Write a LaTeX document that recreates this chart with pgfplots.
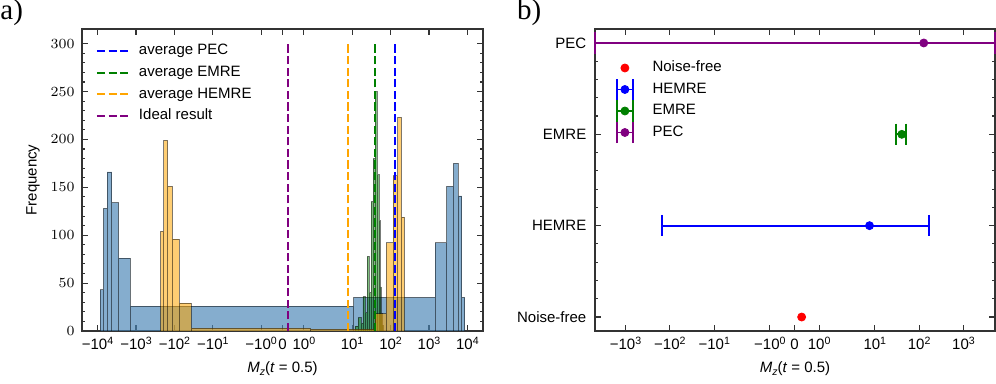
\documentclass[border=0pt]{standalone}
\usepackage{fontspec}
\setmainfont{Liberation Sans}
\newfontfamily\panelfont{Liberation Serif}
\usepackage{pgfplots}
\pgfplotsset{compat=1.18}

\definecolor{mplblue}{RGB}{0,0,255}
\definecolor{mplgreen}{RGB}{0,128,0}
\definecolor{mplorange}{RGB}{255,165,0}
\definecolor{mplpurple}{RGB}{128,0,128}
\definecolor{mplred}{RGB}{255,0,0}
\definecolor{steelblue}{RGB}{70,130,180}

\newcommand\lbl{\fontsize{7.5}{9}\selectfont}
\newcommand\sps[1]{\raisebox{0.75ex}{\fontsize{5.3}{6}\selectfont #1}}

% symlog axis as in matplotlib: linthresh = 2, linscale = 1
\newcommand\symlogfwd[1]{%
  \begingroup
  \pgfkeys{/pgf/fpu=true,/pgf/fpu/output format=fixed}%
  \pgfmathparse{abs(#1)<2 ? 1.1111111*(#1) : ((#1)<0 ? -2 : 2)*(1.1111111+ln(max(abs(#1),2)/2)/ln(10))}%
  \xdef\symlogtmp{\pgfmathresult}%
  \endgroup
  \let\pgfmathresult\symlogtmp}
\newcommand\symloginv[1]{%
  \begingroup
  \pgfkeys{/pgf/fpu=true,/pgf/fpu/output format=fixed}%
  \pgfmathparse{abs(#1)<2.2222222 ? (#1)/1.1111111 : ((#1)<0 ? -2 : 2)*exp(ln(10)*(max(abs(#1),2.2222222)/2-1.1111111))}%
  \xdef\symlogtmp{\pgfmathresult}%
  \endgroup
  \let\pgfmathresult\symlogtmp}

% legend handle for the error bars
\newcommand\ebarimg[1]{%
  \draw[#1, line width=0.9pt, overlay] (0pt,-5.35pt) -- (0pt,5.35pt) (8.3pt,-5.35pt) -- (8.3pt,5.35pt);
  \draw[#1, line width=0.9pt] (0pt,0pt) -- (8.3pt,0pt);
  \fill[#1] (4.15pt,0pt) circle (2pt);}

\pgfplotsset{
  symlog/.style={
    x coord trafo/.code={\symlogfwd{##1}},
    x coord inv trafo/.code={\symloginv{##1}},
  },
  panel/.style={
    scale only axis, anchor=south west,
    height=151pt,
    axis line style={line width=0.65pt, black!80},
    tick align=inside,
    every tick/.style={line width=0.55pt, black!80},
    major tick length=2.8pt, minor tick length=1.6pt,
    tick label style={font=\lbl},
    label style={font=\lbl},
    x tick label style={anchor=base, yshift=-9.5pt, inner sep=0pt},
    xlabel style={at={(axis description cs:0.5,-0.1358)}, anchor=base, inner sep=0pt},
    legend style={font=\lbl, draw=none, fill=none, inner sep=0pt, outer sep=0pt,
      nodes={inner sep=0.5pt, text height=5.5pt, text depth=1.6pt}},
    legend cell align=left,
  },
  hist/.style={ybar interval, draw=black, draw opacity=0.5, line width=0.4pt, forget plot},
  avg/.style={line width=1pt, dash pattern=on 4.1pt off 1.7pt},
}

\begin{document}
\begin{tikzpicture}

% a) histograms of the mitigated values
\begin{axis}[panel, symlog,
  at={(0pt,0pt)}, width=200.5pt,
  xmin=-25400, xmax=25400, ymin=0, ymax=315.3,
  xtick={-10000,-1000,-100,-10,-1,0,1,10,100,1000,10000},
  xticklabels={−10\sps{4},−10\sps{3},−10\sps{2},−10\sps{1},−10\sps{0},0,10\sps{0},10\sps{1},10\sps{2},10\sps{3},10\sps{4}},
  ytick={0,50,...,300}, minor y tick num=4,
  y tick label style={anchor=east, inner sep=0pt, xshift=-3.5pt},
  ylabel={Frequency},
  ylabel style={at={(axis description cs:-0.1222,0.5)}, anchor=center},
  xlabel={\textit{M}\raisebox{-0.45ex}{\fontsize{5.3}{6}\selectfont\itshape z}(\textit{t} = 0.5)},
  legend image code/.code={\draw[#1] (0pt,0pt) -- (15.5pt,0pt);},
  legend style={at={(0,1)}, anchor=north west, xshift=7pt, yshift=-6.95pt,
    row sep=2.75pt, column sep=4.5pt},
]
% PEC
\addplot[hist, fill=steelblue, fill opacity=0.66] coordinates {
  (-8527,43) (-7104,128) (-5681,166) (-4258,134) (-2835,76) (-1412,26)
  (11,35) (1434,92) (2857,151) (4280,175) (5703,141) (7126,35) (8549,35)};
% EMRE
\addplot[hist, fill=mplgreen, fill opacity=0.5] coordinates {
  (11.9,5) (14.3,14) (17.0,8) (19.2,36) (21.7,19) (24.5,78) (27.6,40)
  (31.1,135) (35.1,180) (39.6,250) (44.7,163) (50.4,115) (53.5,46)
  (56.8,18) (60.2,6) (63.9,6)};
% HEMRE
\addplot[hist, fill=mplorange, fill opacity=0.55] coordinates {
  (-227.9,104) (-189.7,199) (-151.5,151) (-113.3,96) (-75.1,29) (-36.9,3)
  (1.3,2) (39.5,18) (77.7,92) (115.9,162) (154.1,223) (192.3,119) (230.5,119)};

\addplot[avg, mplblue] coordinates {(128,0) (128,300)};
\addlegendentry{average PEC}
\addplot[avg, mplgreen] coordinates {(40.6,0) (40.6,300)};
\addlegendentry{average EMRE}
\addplot[avg, mplorange] coordinates {(7.6,0) (7.6,300)};
\addlegendentry{average HEMRE}
\addplot[avg, mplpurple] coordinates {(0.28,0) (0.28,300)};
\addlegendentry{Ideal result}
\end{axis}

% b) mean and standard deviation
\begin{axis}[panel, symlog,
  at={(256.5pt,0pt)}, width=200pt,
  xmin=-4878, xmax=5132, ymin=-0.153, ymax=3.153,
  xtick={-1000,-100,-10,-1,0,1,10,100,1000},
  xticklabels={−10\sps{3},−10\sps{2},−10\sps{1},−10\sps{0},0,10\sps{0},10\sps{1},10\sps{2},10\sps{3}},
  ytick={0,1,2,3}, yticklabels={Noise-free,HEMRE,EMRE,PEC},
  minor y tick num=4,
  y tick label style={anchor=east, inner sep=0pt, xshift=-4.15pt},
  xlabel={\textit{M}\raisebox{-0.45ex}{\fontsize{5.3}{6}\selectfont\itshape z}(\textit{t} = 0.5)},
  legend style={at={(0,1)}, anchor=north west, xshift=10.35pt, yshift=-15.45pt,
    row sep=2.65pt, column sep=8.7pt},
]
\addlegendimage{legend image code/.code={\fill[mplred] (4.15pt,0pt) circle (2pt);}}
\addlegendentry{Noise-free}
\addlegendimage{legend image code/.code={\ebarimg{mplblue}}}
\addlegendentry{HEMRE}
\addlegendimage{legend image code/.code={\ebarimg{mplgreen}}}
\addlegendentry{EMRE}
\addlegendimage{legend image code/.code={\ebarimg{mplpurple}}}
\addlegendentry{PEC}

\addplot[mplred, only marks, mark=*, mark size=2pt, forget plot] coordinates {(0.29,0)};

\addplot[mplblue, line width=0.9pt, mark=|, mark size=5.4pt, forget plot] coordinates {(-152.4,1) (167.6,1)};
\addplot[mplblue, only marks, mark=*, mark size=2pt, forget plot] coordinates {(7.6,1)};

\addplot[mplgreen, line width=0.9pt, mark=|, mark size=5.4pt, forget plot] coordinates {(29.9,2) (51.3,2)};
\addplot[mplgreen, only marks, mark=*, mark size=2pt, forget plot] coordinates {(40.6,2)};

\addplot[mplpurple, line width=0.9pt, mark=|, mark size=5.4pt, forget plot] coordinates {(-4878,3) (5132,3)};
\addplot[mplpurple, only marks, mark=*, mark size=2pt, forget plot] coordinates {(127,3)};
\end{axis}

\node[anchor=base west, inner sep=0pt, font=\panelfont\fontsize{14.5}{16}\selectfont] at (-41pt,155.5pt) {a)};
\node[anchor=base west, inner sep=0pt, font=\panelfont\fontsize{14.5}{16}\selectfont] at (217.35pt,155.5pt) {b)};

\pgfresetboundingbox
\path[use as bounding box] (-41pt,-26.5pt) rectangle (457pt,165.5pt);
\end{tikzpicture}
\end{document}
